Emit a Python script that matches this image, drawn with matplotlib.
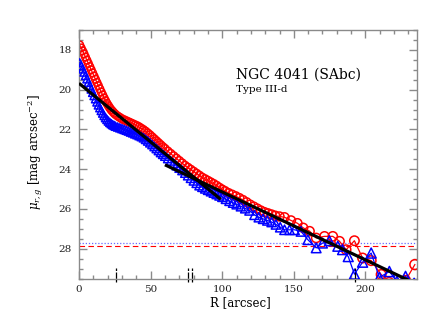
import matplotlib
matplotlib.use("Agg")
import matplotlib.pyplot as plt
import numpy as np

# ---------------- data ----------------
R_red = [0.5, 1.5, 2.5, 3.5, 4.5, 5.5, 6.5, 7.5, 8.5, 9.5, 10.5, 11.5, 12.5, 13.5,
         14.5, 15.5, 16.5, 17.5, 18.5, 19.5, 20.5, 21.5, 22.5, 23.5, 24.5, 25.5,
         27, 28.5, 30, 31.5, 33, 34.5, 36, 37.5, 39, 40.5, 42, 43.5, 45, 46.5, 48,
         49.5, 51, 52.5, 54, 55.5, 57, 58.5, 60, 62, 64, 66, 68, 70, 72, 74, 76, 78,
         80, 82, 84, 86, 88, 90, 92, 94, 96, 98, 100, 102, 104.5, 107, 109.5, 112,
         114.5, 117, 119.5, 122, 124.5, 127, 129.5, 132, 134.5, 137, 140, 143.5,
         148, 152.5, 156.5, 161, 165.6, 171.4, 177.2, 181.9, 186.5, 192.3, 198,
         204, 211, 216.5, 222, 228, 234.5]
mu_red = [17.75, 17.9, 18.05, 18.2, 18.36, 18.52, 18.68, 18.84, 19.0, 19.16, 19.32,
          19.48, 19.64, 19.8, 19.96, 20.12, 20.27, 20.42, 20.56, 20.69, 20.81, 20.92,
          21.02, 21.1, 21.18, 21.25, 21.33, 21.4, 21.47, 21.52, 21.57, 21.62, 21.67,
          21.72, 21.77, 21.82, 21.88, 21.95, 22.02, 22.1, 22.19, 22.28, 22.38, 22.48,
          22.58, 22.68, 22.78, 22.88, 22.97, 23.1, 23.22, 23.34, 23.46, 23.58, 23.7,
          23.82, 23.92, 24.02, 24.12, 24.22, 24.32, 24.42, 24.5, 24.58, 24.66, 24.74,
          24.83, 24.93, 25.02, 25.1, 25.2, 25.28, 25.36, 25.45, 25.55, 25.66, 25.78,
          25.88, 25.98, 26.08, 26.16, 26.22, 26.28, 26.34, 26.38, 26.42, 26.58,
          26.72, 26.95, 27.12, 27.46, 27.38, 27.38, 27.63, 28.05, 27.6, 28.47,
          28.6, 29.3, 29.7, 29.9, 29.6, 28.8]

R_blue = [0.5, 1.5, 2.5, 3.5, 4.5, 5.5, 6.5, 7.5, 8.5, 9.5, 10.5, 11.5, 12.5, 13.5,
          14.5, 15.5, 16.5, 17.5, 18.5, 19.5, 20.5, 21.5, 22.5, 23.5, 24.5, 25.5,
          27, 28.5, 30, 31.5, 33, 34.5, 36, 37.5, 39, 40.5, 42, 43.5, 45, 46.5, 48,
          49.5, 51, 52.5, 54, 55.5, 57, 58.5, 60, 62, 64, 66, 68, 70, 72, 74, 76, 78,
          80, 82, 84, 86, 88, 90, 92, 94, 96, 98, 100, 102.5, 105, 107.5, 110, 113,
          116, 119, 122.5, 125.5, 128.5, 131.5, 134.5, 137.5, 140.5, 143.5, 147,
          150.5, 155, 159.8, 165.6, 170, 174.8, 180.7, 184, 188, 192.3, 198, 204,
          209.7, 216.7, 222, 228, 234]
mu_blue = [18.65, 18.8, 18.96, 19.12, 19.29, 19.46, 19.63, 19.8, 19.97, 20.14, 20.3,
           20.46, 20.62, 20.77, 20.91, 21.05, 21.18, 21.3, 21.41, 21.5, 21.58, 21.65,
           21.71, 21.76, 21.8, 21.84, 21.88, 21.92, 21.96, 22.0, 22.04, 22.08, 22.13,
           22.17, 22.22, 22.26, 22.31, 22.36, 22.42, 22.5, 22.58, 22.67, 22.76, 22.86,
           22.96, 23.06, 23.16, 23.25, 23.34, 23.46, 23.58, 23.7, 23.82, 23.94, 24.06,
           24.19, 24.32, 24.45, 24.58, 24.7, 24.82, 24.9, 24.98, 25.05, 25.12, 25.19,
           25.26, 25.33, 25.4, 25.5, 25.6, 25.69, 25.77, 25.87, 25.97, 26.08, 26.3,
           26.42, 26.5, 26.58, 26.66, 26.78, 26.92, 27.05, 27.05, 27.05, 27.13,
           27.55, 27.96, 27.72, 27.6, 27.88, 28.05, 28.4, 29.28, 28.68, 28.22, 29.45,
           29.15, 29.65, 29.4, 29.75]

fit_inner_R = [0.0, 99.0]
fit_inner_mu = [19.68, 25.52]
fit_outer_R = [60.0, 240.0]
fit_outer_mu = [23.78, 29.93]

sky_red = 27.85
sky_blue = 27.73
mark_R = [25.7, 76.0, 79.2, 192.6]

name_text = "NGC 4041 (SAbc)"
type_text = "Type III-d"

# ---------------- figure ----------------
plt.rcParams['font.family'] = ['DejaVu Serif']
plt.rcParams['mathtext.fontset'] = 'dejavuserif'

W, H = 430, 333
fig = plt.figure(figsize=(W / 100, H / 100), dpi=100)
x0, x1, y0, y1 = 79, 417, 30, 278.5
ax = fig.add_axes([x0 / W, 1 - y1 / H, (x1 - x0) / W, (y1 - y0) / H])

ax.set_xlim(0, 236)
ax.set_ylim(29.5, 17.0)

def msize(R):
    d_px = 7.5 + 0.01 * np.asarray(R)
    return (d_px * 0.72) ** 2

ax.plot(R_red, mu_red, color='red', lw=0.9, zorder=2)
ax.scatter(R_red, mu_red, s=msize(R_red), marker='o', facecolors='none',
           edgecolors='red', linewidths=1.1, zorder=2)
ax.plot(R_blue, mu_blue, color='blue', lw=0.9, zorder=3)
ax.scatter(R_blue, mu_blue, s=msize(R_blue) * 1.1, marker='^', facecolors='none',
           edgecolors='blue', linewidths=1.1, zorder=3)

ax.plot(fit_inner_R, fit_inner_mu, color='black', lw=2.3, zorder=4,
        solid_capstyle='butt')
ax.plot(fit_outer_R, fit_outer_mu, color='black', lw=2.3, zorder=4,
        solid_capstyle='butt')

ax.axhline(sky_red, color='red', lw=0.8, ls=(0, (5, 3)), zorder=1)
ax.axhline(sky_blue, color='#6a6aff', lw=0.9, ls=(0, (1, 1.5)), zorder=1)

for r in mark_R:
    ax.plot([r, r], [28.95, 29.75], color='black', lw=0.9,
            ls=(0, (2, 1.2, 5, 1)), clip_on=False, zorder=5)

ax.text(109.5, 19.26, name_text, fontsize=10, va='center', ha='left')
ax.text(109.5, 19.98, type_text, fontsize=7.5, va='center', ha='left')

spine_c = '#8a8a8a'
for s in ax.spines.values():
    s.set_color(spine_c)
    s.set_linewidth(1.0)

ax.set_xticks([0, 50, 100, 150, 200])
ax.set_xticks(np.arange(0, 236, 10), minor=True)
ax.set_yticks([18, 20, 22, 24, 26, 28])
ax.set_yticks(np.arange(17, 29.6, 0.5), minor=True)
ax.tick_params(which='both', direction='in', top=True, right=True,
               color=spine_c, labelsize=7.5, labelcolor='#222222', width=1.0)
ax.tick_params(which='major', length=6, pad=5)
ax.tick_params(which='minor', length=3)

ax.set_xlabel('R [arcsec]', fontsize=8.5)
ax.xaxis.set_label_coords(0.476, -0.07)
ax.set_ylabel(r'$\mu_{r,g}$ [mag arcsec$^{-2}$]', fontsize=8.5)
ax.yaxis.set_label_coords(-0.10, 0.51)

fig.savefig('out.png', dpi=100)
